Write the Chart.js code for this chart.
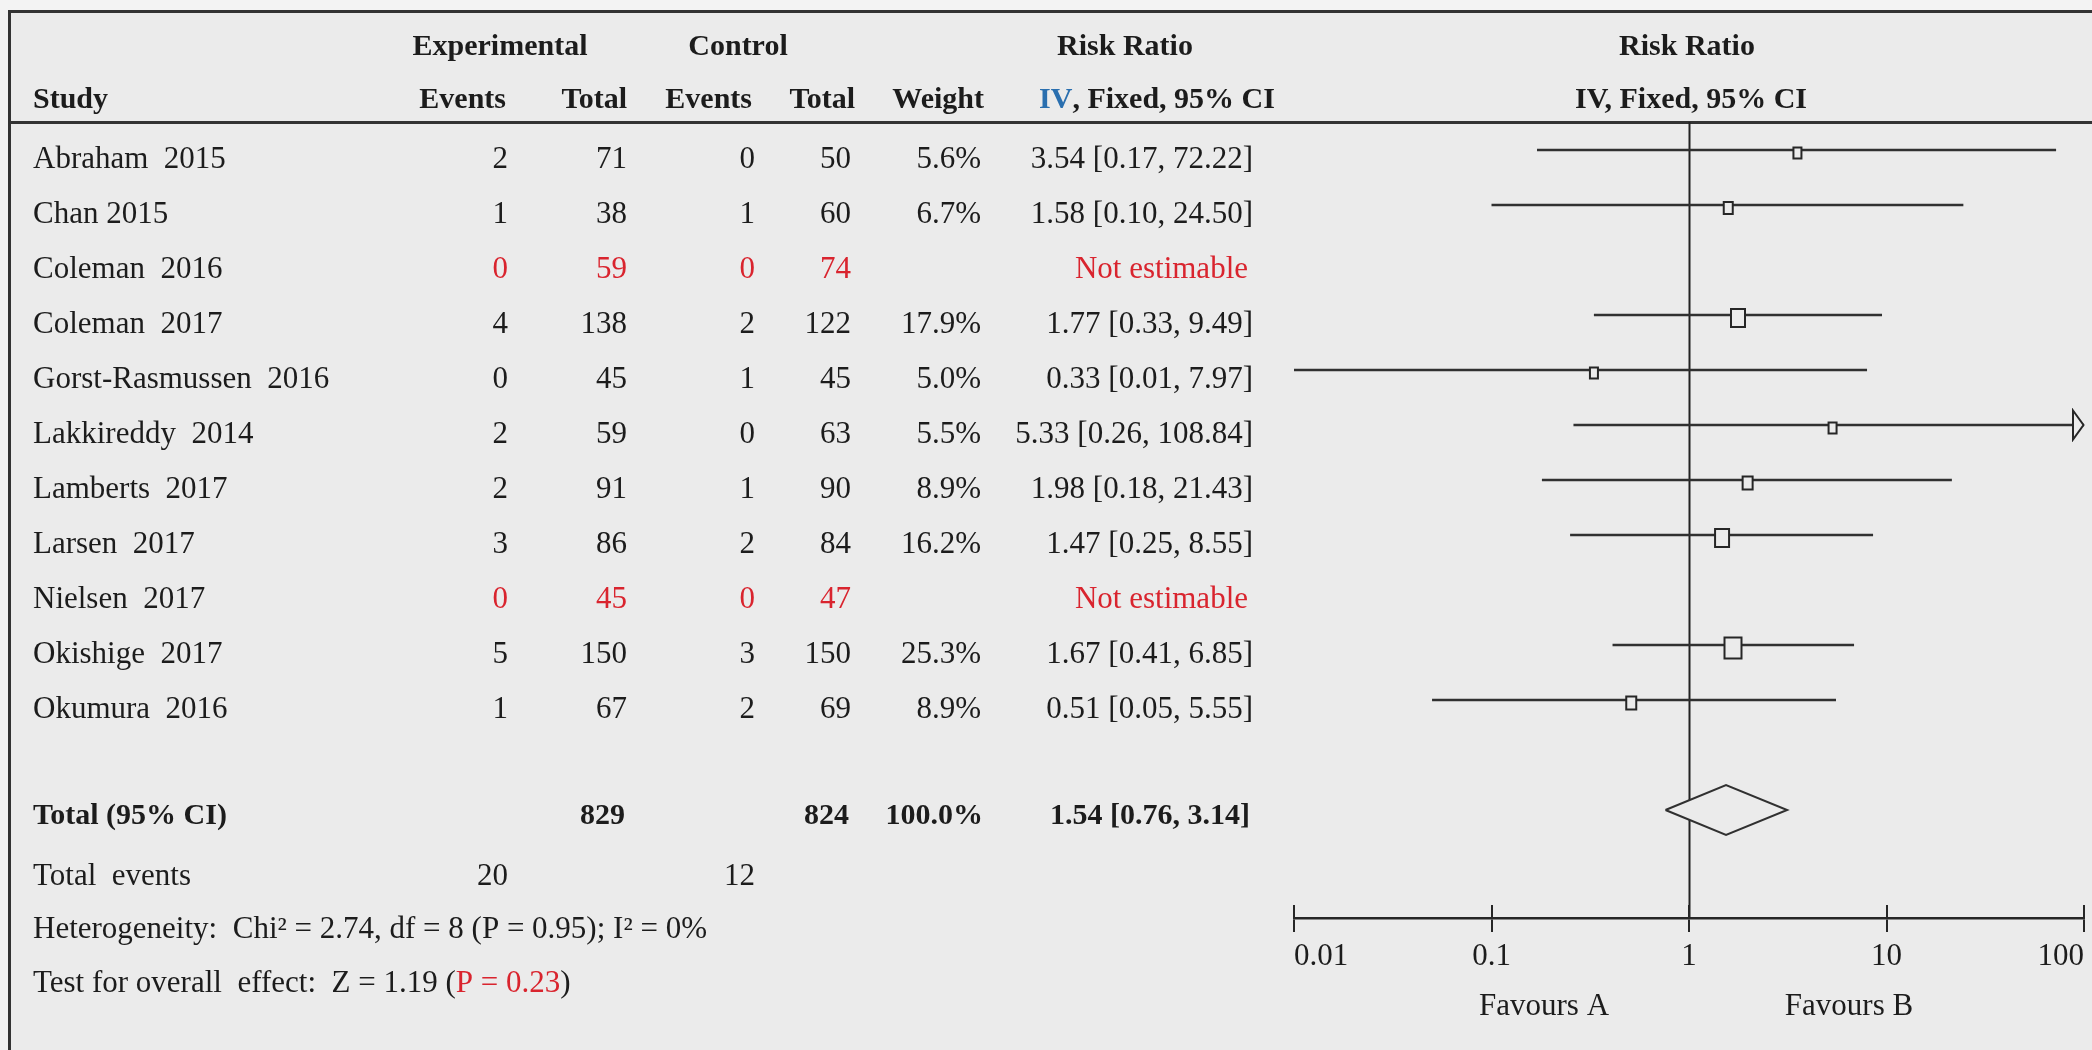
<!DOCTYPE html>
<html>
<head>
<meta charset="utf-8">
<title>Risk Ratio forest plot</title>
<script src="https://cdn.jsdelivr.net/npm/chart.js@4.4.1/dist/chart.umd.min.js"></script>
<style>
  html, body { margin: 0; padding: 0; background: #f3f3f3; }
  #wrap { width: 2092px; height: 1050px; }
  canvas { display: block; }
</style>
</head>
<body>
<div id="wrap"><canvas id="forest" width="2092" height="1050"></canvas></div>
<script>
// ---- study data ----
const studies     = ['Abraham  2015', 'Chan 2015', 'Coleman  2016', 'Coleman  2017', 'Gorst-Rasmussen  2016',
                     'Lakkireddy  2014', 'Lamberts  2017', 'Larsen  2017', 'Nielsen  2017', 'Okishige  2017', 'Okumura  2016'];
const expEvents   = [2, 1, 0, 4, 0, 2, 2, 3, 0, 5, 1];
const expTotal    = [71, 38, 59, 138, 45, 59, 91, 86, 45, 150, 67];
const ctrlEvents  = [0, 1, 0, 2, 1, 0, 1, 2, 0, 3, 2];
const ctrlTotal   = [50, 60, 74, 122, 45, 63, 90, 84, 47, 150, 69];
const weights     = [5.6, 6.7, null, 17.9, 5.0, 5.5, 8.9, 16.2, null, 25.3, 8.9];
const riskRatio   = [3.54, 1.58, null, 1.77, 0.33, 5.33, 1.98, 1.47, null, 1.67, 0.51];
const ciLower     = [0.17, 0.10, null, 0.33, 0.01, 0.26, 0.18, 0.25, null, 0.41, 0.05];
const ciUpper     = [72.22, 24.50, null, 9.49, 7.97, 108.84, 21.43, 8.55, null, 6.85, 5.55];

// ---- pooled result ----
const pooledRR    = 1.54;
const pooledLower = 0.76;
const pooledUpper = 3.14;
const pooledExpTotal  = 829;
const pooledCtrlTotal = 824;
const pooledWeight    = 100.0;
const expEventsTotal  = 20;
const ctrlEventsTotal = 12;
const heterogeneityText = 'Heterogeneity:  Chi\u00B2 = 2.74, df = 8 (P = 0.95); I\u00B2 = 0%';
const overallTestText   = 'Test for overall  effect:  Z = 1.19 (';
const overallTestP      = 'P = 0.23';

// ---- axis ----
const tickValues = [0.01, 0.1, 1, 10, 100];
const tickLabels = ['0.01', '0.1', '1', '10', '100'];
const axisMin = 0.01, axisMax = 100;
const favoursLeft = 'Favours A', favoursRight = 'Favours B';

// ---- styling ----
const BG = '#ebebeb';
const INK = '#1c1c1c';
const LINE = '#303030';
const RED = '#d9242e';
const BLUE = '#2a6faf';
const FONT = '"Liberation Serif", "Times New Roman", serif';
const FS = 31;       // regular text
const FS_BOLD = 30;  // header and pooled row

const totalRow = studies.length + 1;   // pooled row sits one blank row below the studies
const DIAMOND_HALF = 0.455;            // half height of the pooled diamond, in row units

const fmt2 = v => v.toFixed(2);
const hasEstimate = i => riskRatio[i] !== null;

// Box marker whose size follows the study weight
function makeBox(w) {
  const bw = Math.round(3.4 * Math.sqrt(w));
  const bh = Math.round(1.2 * bw + 1);
  const off = 3;
  const c = document.createElement('canvas');
  c.width = bw + 4;
  c.height = bh + 4 + 2 * off;
  const g = c.getContext('2d');
  g.fillStyle = BG;
  g.strokeStyle = '#262626';
  g.lineWidth = 2;
  g.fillRect(2, 2 + 2 * off, bw, bh);
  g.strokeRect(2, 2 + 2 * off, bw, bh);
  return c;
}

// Open arrowhead used when a confidence interval runs past the axis
function makeArrow() {
  const c = document.createElement('canvas');
  c.width = 28; c.height = 34;
  const g = c.getContext('2d');
  const cx = 14, cy = 17;
  g.fillStyle = BG;
  g.strokeStyle = '#262626';
  g.lineWidth = 2;
  g.beginPath();
  g.moveTo(cx - 11, cy - 14.5);
  g.lineTo(cx - 0.5, cy);
  g.lineTo(cx - 11, cy + 14.5);
  g.closePath();
  g.fill();
  g.stroke();
  return c;
}

// ---- datasets ----
const ciSets = [];
const boxPoints = [];
const boxStyles = [];
const arrowPoints = [];
studies.forEach((s, i) => {
  if (!hasEstimate(i)) return;
  ciSets.push({
    type: 'line',
    data: [{ x: ciLower[i], y: i }, { x: ciUpper[i], y: i }],
    borderColor: LINE, borderWidth: 2.5, pointRadius: 0, fill: false, order: 3
  });
  boxPoints.push({ x: riskRatio[i], y: i });
  boxStyles.push(makeBox(weights[i]));
  if (ciUpper[i] > axisMax) arrowPoints.push({ x: axisMax, y: i });
});

const diamondSet = {
  type: 'line',
  data: [
    { x: pooledLower, y: totalRow },
    { x: pooledRR, y: totalRow - DIAMOND_HALF },
    { x: pooledUpper, y: totalRow },
    { x: pooledRR, y: totalRow + DIAMOND_HALF },
    { x: pooledLower, y: totalRow }
  ],
  borderColor: LINE, borderWidth: 2, pointRadius: 0,
  fill: 'shape', backgroundColor: BG, order: 2
};

const boxSet = {
  type: 'scatter',
  data: boxPoints,
  pointStyle: ctx => boxStyles[ctx.dataIndex],
  pointRadius: 5, order: 1
};

const arrowImg = makeArrow();
const arrowSet = {
  type: 'scatter',
  data: arrowPoints,
  pointStyle: arrowImg,
  pointRadius: 5, clip: false, order: 1
};

// ---- table text, frame and reference line ----
function fontFor(bold) {
  return bold ? 'bold ' + FS_BOLD + 'px ' + FONT : FS + 'px ' + FONT;
}
function put(ctx, s, x, y, align, color, bold) {
  ctx.font = fontFor(bold);
  ctx.fillStyle = color || INK;
  ctx.textAlign = align;
  ctx.textBaseline = 'alphabetic';
  ctx.fillText(s, x, y);
}
function putParts(ctx, parts, x, y, align, bold) {
  ctx.font = fontFor(bold);
  const total = parts.reduce((a, p) => a + ctx.measureText(p[0]).width, 0);
  let cx = align === 'center' ? x - total / 2 : (align === 'right' ? x - total : x);
  parts.forEach(p => {
    put(ctx, p[0], cx, y, 'left', p[1], bold);
    ctx.font = fontFor(bold);
    cx += ctx.measureText(p[0]).width;
  });
}

const COL = { name: 33, expEv: 508, expTot: 627, ctlEv: 755, ctlTot: 851, weight: 981, rr: 1253 };
const ROW0 = 168, ROWH = 55;

const tablePlugin = {
  id: 'forestTable',
  beforeDraw(chart) {
    const ctx = chart.ctx;
    ctx.save();
    ctx.fillStyle = '#f3f3f3';
    ctx.fillRect(0, 0, chart.width, chart.height);
    ctx.fillStyle = BG;
    ctx.fillRect(9, 11, chart.width - 9, chart.height - 11);
    ctx.strokeStyle = '#333';
    ctx.lineWidth = 3;
    ctx.beginPath();
    ctx.moveTo(9.5, chart.height); ctx.lineTo(9.5, 11.5); ctx.lineTo(chart.width, 11.5);
    ctx.moveTo(9.5, 122.5); ctx.lineTo(chart.width, 122.5);
    ctx.stroke();

    // headers
    put(ctx, 'Experimental', 500, 55, 'center', INK, true);
    put(ctx, 'Control', 738, 55, 'center', INK, true);
    put(ctx, 'Risk Ratio', 1125, 55, 'center', INK, true);
    put(ctx, 'Risk Ratio', 1687, 55, 'center', INK, true);
    put(ctx, 'Study', COL.name, 108, 'left', INK, true);
    put(ctx, 'Events', 506, 108, 'right', INK, true);
    put(ctx, 'Total', COL.expTot, 108, 'right', INK, true);
    put(ctx, 'Events', 752, 108, 'right', INK, true);
    put(ctx, 'Total', 855, 108, 'right', INK, true);
    put(ctx, 'Weight', 984, 108, 'right', INK, true);
    putParts(ctx, [['IV', BLUE], [', Fixed, 95% CI', INK]], 1157, 108, 'center', true);
    put(ctx, 'IV, Fixed, 95% CI', 1691, 108, 'center', INK, true);

    // study rows
    studies.forEach((s, i) => {
      const y = ROW0 + i * ROWH;
      const est = hasEstimate(i);
      const c = est ? INK : RED;
      put(ctx, s, COL.name, y, 'left', INK);
      put(ctx, String(expEvents[i]), COL.expEv, y, 'right', c);
      put(ctx, String(expTotal[i]), COL.expTot, y, 'right', c);
      put(ctx, String(ctrlEvents[i]), COL.ctlEv, y, 'right', c);
      put(ctx, String(ctrlTotal[i]), COL.ctlTot, y, 'right', c);
      if (est) {
        put(ctx, weights[i].toFixed(1) + '%', COL.weight, y, 'right', INK);
        put(ctx, fmt2(riskRatio[i]) + ' [' + fmt2(ciLower[i]) + ', ' + fmt2(ciUpper[i]) + ']', COL.rr, y, 'right', INK);
      } else {
        put(ctx, 'Not estimable', COL.rr - 5, y, 'right', RED);
      }
    });

    // pooled rows
    const yT = 824;
    put(ctx, 'Total (95% CI)', COL.name, yT, 'left', INK, true);
    put(ctx, String(pooledExpTotal), 625, yT, 'right', INK, true);
    put(ctx, String(pooledCtrlTotal), 849, yT, 'right', INK, true);
    put(ctx, pooledWeight.toFixed(1) + '%', 983, yT, 'right', INK, true);
    put(ctx, fmt2(pooledRR) + ' [' + fmt2(pooledLower) + ', ' + fmt2(pooledUpper) + ']', 1250, yT, 'right', INK, true);

    put(ctx, 'Total  events', COL.name, 885, 'left', INK);
    put(ctx, String(expEventsTotal), COL.expEv, 885, 'right', INK);
    put(ctx, String(ctrlEventsTotal), COL.ctlEv, 885, 'right', INK);
    put(ctx, heterogeneityText, COL.name, 938, 'left', INK);
    putParts(ctx, [[overallTestText, INK], [overallTestP, RED], [')', INK]], COL.name, 992, 'left', false);

    // favours labels under the axis
    put(ctx, favoursLeft, 1544, 1015, 'center', INK);
    put(ctx, favoursRight, 1849, 1015, 'center', INK);
    ctx.restore();
  },
  beforeDatasetsDraw(chart) {
    const ctx = chart.ctx, a = chart.chartArea;
    const x = Math.round(chart.scales.x.getPixelForValue(1)) + 0.5;
    ctx.save();
    ctx.strokeStyle = '#222';
    ctx.lineWidth = 2;
    ctx.beginPath();
    ctx.moveTo(x, a.top);
    ctx.lineTo(x, a.bottom);
    ctx.stroke();
    ctx.restore();
  },
  afterDraw(chart) {
    // tick marks also reach above the axis line
    const ctx = chart.ctx, a = chart.chartArea, sx = chart.scales.x;
    ctx.save();
    ctx.strokeStyle = '#262626';
    ctx.lineWidth = 2;
    ctx.beginPath();
    tickValues.forEach(v => {
      const x = Math.round(sx.getPixelForValue(v));
      ctx.moveTo(x, a.bottom - 13);
      ctx.lineTo(x, a.bottom);
    });
    ctx.stroke();
    ctx.restore();
  }
};

new Chart(document.getElementById('forest'), {
  type: 'scatter',
  data: { datasets: [...ciSets, diamondSet, boxSet, arrowSet] },
  options: {
    responsive: false,
    animation: false,
    events: [],
    layout: { padding: { left: 1294, right: 8, top: 122, bottom: 72 } },
    plugins: { legend: { display: false }, tooltip: { enabled: false } },
    scales: {
      x: {
        type: 'logarithmic',
        min: axisMin,
        max: axisMax,
        position: 'bottom',
        afterBuildTicks: s => { s.ticks = tickValues.map(v => ({ value: v })); },
        afterFit: s => { s.height = 60; },
        border: { display: true, color: '#262626', width: 2.5 },
        grid: { display: true, drawOnChartArea: false, drawTicks: true, tickLength: 14, color: '#262626', lineWidth: 2 },
        ticks: {
          callback: v => tickLabels[tickValues.indexOf(v)],
          font: { family: FONT, size: FS },
          color: INK,
          align: 'inner',
          padding: 6,
          autoSkip: false,
          maxRotation: 0
        }
      },
      y: {
        type: 'linear',
        reverse: true,
        min: -0.509,
        max: 13.964,
        display: false
      }
    }
  },
  plugins: [tablePlugin]
});
</script>
</body>
</html>
